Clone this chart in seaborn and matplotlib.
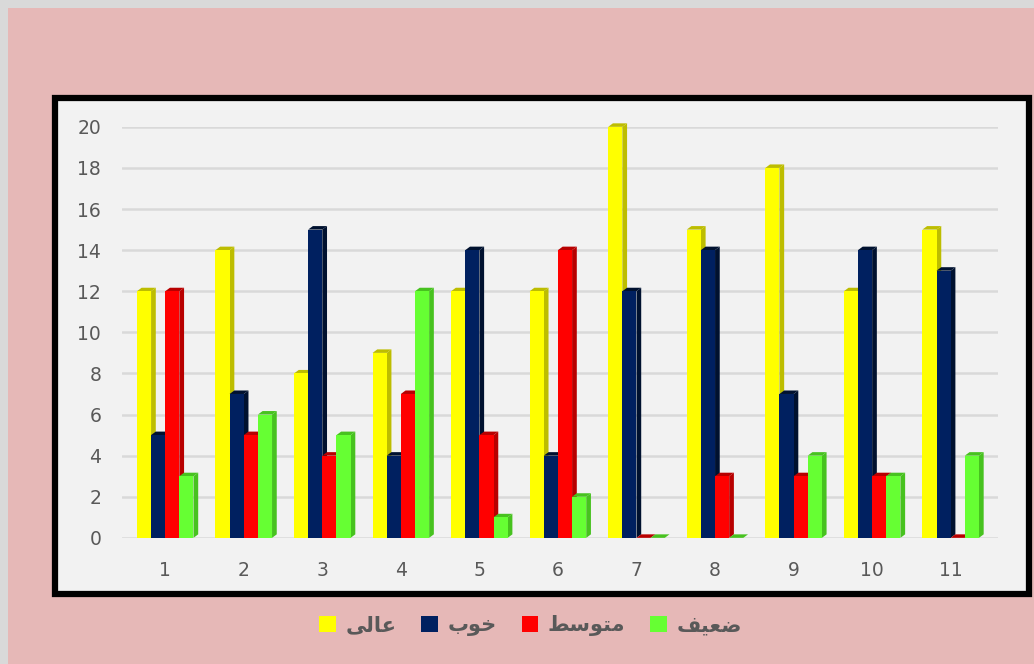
import matplotlib
matplotlib.use("Agg")
import matplotlib.pyplot as plt
from matplotlib.patches import Polygon, Rectangle, Patch
import pandas as pd
import seaborn as sns

# data
groups = ["1", "2", "3", "4", "5", "6", "7", "8", "9", "10", "11"]
high = [12, 14, 8, 9, 12, 12, 20, 15, 18, 12, 15]
good = [5, 7, 15, 4, 14, 4, 12, 14, 7, 14, 13]
medium = [12, 5, 4, 7, 5, 14, 0, 3, 3, 3, 0]
weak = [3, 6, 5, 12, 1, 2, 0, 0, 4, 3, 4]

# series names (Arabic presentation forms, visual order)
series = ["\uFEF0\uFEDF\uFE8E\uFECB",          # عالی
          "\uFE8F\uFEEE\uFEA7",                # خوب
          "\uFEC2\uFEB3\uFEEE\uFE98\uFEE3",    # متوسط
          "\uFED2\uFEF4\uFECC\uFEBF"]          # ضعیف
colors = ["#FFFF00", "#002060", "#FF0000", "#66FF33"]
side_colors = ["#BDBD00", "#00112F", "#B80000", "#47C21F"]

df = pd.DataFrame({
    "group": groups * 4,
    "series": [s for s in series for _ in groups],
    "value": high + good + medium + weak,
})

sns.set_style("white")
plt.rcParams["font.family"] = ["DejaVu Sans"]

fig = plt.figure(figsize=(10.34, 6.64), dpi=100)
fig.patch.set_facecolor("#D9D9D9")

# pink background and black framed chart box
fig.patches.append(Rectangle((0.008, 0.0), 0.992, 0.988, transform=fig.transFigure,
                             facecolor="#E6B8B7", edgecolor="none", zorder=-3))
fig.patches.append(Rectangle((0.053, 0.105), 0.942, 0.747, transform=fig.transFigure,
                             facecolor="#F2F2F2", edgecolor="black", linewidth=4.5,
                             zorder=-2))

ax = fig.add_axes([0.118, 0.19, 0.847, 0.619])
ax.set_facecolor("none")

sns.barplot(data=df, x="group", y="value", hue="series", hue_order=series,
            palette=colors, width=0.72, gap=0, ax=ax, legend=False,
            saturation=1, linewidth=0, errorbar=None)

# fake 3D: darker right side and top face for each bar
dx, dy = 0.06, 0.17
for i, cont in enumerate(ax.containers):
    for bar in cont:
        x0 = bar.get_x()
        x1 = x0 + bar.get_width()
        h = bar.get_height()
        bar.set_zorder(3 + i * 0.1 + 0.05)
        bar.set_clip_on(False)
        side = Polygon([(x1, 0), (x1 + dx, dy), (x1 + dx, h + dy), (x1, h)],
                       closed=True, facecolor=side_colors[i], edgecolor="none",
                       zorder=3 + i * 0.1, clip_on=False)
        top = Polygon([(x0, h), (x0 + dx, h + dy), (x1 + dx, h + dy), (x1, h)],
                      closed=True, facecolor=side_colors[i], edgecolor="none",
                      zorder=3 + i * 0.1, clip_on=False)
        ax.add_patch(side)
        ax.add_patch(top)

ax.set_ylim(0, 20)
ax.set_yticks(range(0, 21, 2))
ax.set_xlim(-0.55, 10.6)
ax.yaxis.grid(True, color="#D9D9D9", linewidth=1.8)
ax.set_axisbelow(True)
for s in ax.spines.values():
    s.set_visible(False)
ax.set_xlabel("")
ax.set_ylabel("")
ax.tick_params(axis="both", length=0, labelsize=13.5, labelcolor="#595959")
ax.tick_params(axis="x", pad=17)
ax.tick_params(axis="y", pad=15)

handles = [Patch(facecolor=c, edgecolor="none") for c in colors]
fig.legend(handles, series, loc="center", bbox_to_anchor=(0.513, 0.058), ncol=4,
           frameon=False, handlelength=0.8, handleheight=0.8, handletextpad=0.45,
           columnspacing=1.2, prop={"size": 15, "weight": "bold"}, labelcolor="#595959")

fig.savefig("out.png", dpi=100, facecolor=fig.get_facecolor())
